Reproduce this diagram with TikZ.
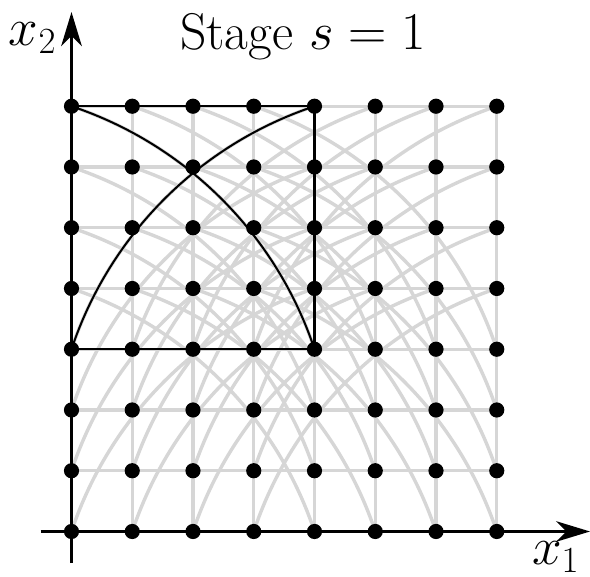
\documentclass[tikz,border=0pt]{standalone}
\usetikzlibrary{arrows.meta}
\begin{document}
\begin{tikzpicture}[
  dot/.style={circle,fill=black,inner sep=0pt,minimum size=0.25cm},
  ghost/.style={draw=black!16,line width=1.6pt},
  blackline/.style={draw=black,line width=0.95pt},
  axisline/.style={draw=black,line width=1.1pt,-{Stealth[length=0.56cm,width=0.34cm,inset=0.17cm]}},
  lbl/.style={font=\fontsize{24.2}{29}\selectfont,inner sep=0pt}]
\useasboundingbox (-1.177,-0.749) rectangle (8.535,8.749);
\def\rr{6.3246}
% grid coordinates
\foreach \i in {0,...,7}{\foreach \j in {0,...,7}{\coordinate (c-\i-\j) at (\i,\j);}}
% gray translated copies
\foreach \i in {0,...,3}{\foreach \j in {0,...,3}{
  \pgfmathtruncatemacro{\ii}{\i+4}\pgfmathtruncatemacro{\jj}{\j+4}
  \draw[ghost] (c-\i-\j) rectangle (c-\ii-\jj);
  \draw[ghost] (c-\i-\jj) arc[start angle=71.565,end angle=18.435,radius=\rr];
  \draw[ghost] (c-\i-\j) arc[start angle=161.565,end angle=108.435,radius=\rr];
}}
% black square and arcs
\draw[blackline] (c-0-3) rectangle (c-4-7);
\draw[blackline] (c-0-7) arc[start angle=71.565,end angle=18.435,radius=\rr];
\draw[blackline] (c-0-3) arc[start angle=161.565,end angle=108.435,radius=\rr];
% axes
\coordinate (xs) at (-0.509,0);
\coordinate (xe) at (8.535,0);
\coordinate (ys) at (0,-0.52);
\coordinate (ye) at (0,8.55);
\draw[axisline] (xs) -- (xe);
\draw[axisline] (ys) -- (ye);
% dots
\foreach \i in {0,...,7}{\foreach \j in {0,...,7}{\node[dot] (p-\i-\j) at (c-\i-\j) {};}}
% labels
\node[lbl,anchor=base] (title) at (3.81,7.93) {Stage $s=1$};
\node[lbl,anchor=base east] (lx2) at (-0.24,8.0) {$x_2$};
\node[lbl,anchor=base east] (lx1) at (8.37,-0.54) {$x_1$};
\end{tikzpicture}
\end{document}
